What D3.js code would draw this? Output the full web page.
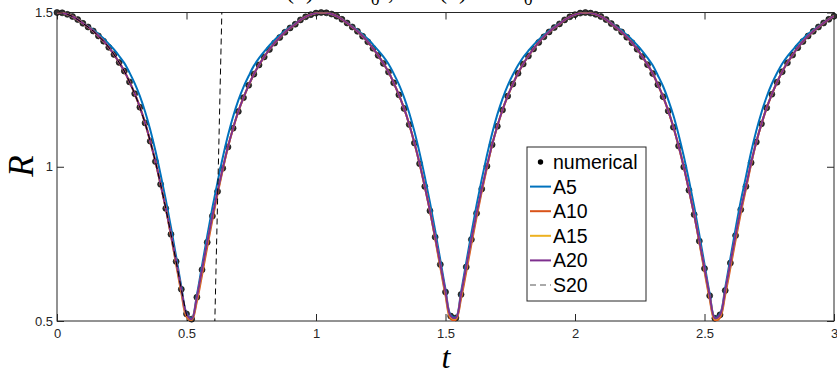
<!DOCTYPE html>
<html><head><meta charset="utf-8">
<script src="https://cdn.jsdelivr.net/npm/d3@7"></script>
<style>body{margin:0;background:#fff;} svg{display:block;}</style>
</head><body>
<script>
// ---- data (t grid: 0..3 step 0.02) ----
const tStart = 0, tEnd = 3, tStep = 0.02;
const numerical = [
1.500,1.499,1.494,1.487,1.477,1.465,1.453,1.440,1.424,1.407,1.387,1.364,1.338,1.310,1.275,1.237,1.193,1.142,1.083,1.017,0.943,0.865,0.781,0.693,0.603,0.523,
0.506,0.577,0.666,0.755,0.840,0.920,0.995,1.064,1.125,1.179,1.224,1.264,1.300,1.330,1.356,1.380,1.401,1.419,1.436,1.450,1.462,1.476,1.486,1.493,1.498,1.500,
1.499,1.495,1.488,1.478,1.466,1.453,1.439,1.423,1.405,1.384,1.361,1.335,1.307,1.272,1.233,1.189,1.137,1.077,1.010,0.936,0.857,0.772,0.683,0.594,0.516,
0.510,0.586,0.675,0.764,0.849,0.928,1.002,1.071,1.131,1.184,1.229,1.268,1.303,1.333,1.359,1.382,1.403,1.421,1.437,1.451,1.463,1.476,1.486,1.493,1.498,1.500,
1.498,1.494,1.487,1.477,1.464,1.451,1.437,1.420,1.402,1.381,1.357,1.331,1.302,1.266,1.227,1.181,1.128,1.067,0.999,0.924,0.845,0.759,0.670,0.582,0.509,
0.520,0.599,0.688,0.777,0.861,0.936,1.013,1.080,1.139,1.191,1.235,1.274,1.308,1.337,1.362,1.386,1.406,1.424,1.439,1.453,1.466,1.478,1.488];
const A5 = [
1.500,1.499,1.494,1.487,1.478,1.466,1.455,1.444,1.430,1.416,1.398,1.380,1.359,1.336,1.305,1.270,1.229,1.179,1.120,1.052,0.975,0.893,0.804,0.709,0.612,0.526,
0.508,0.584,0.680,0.776,0.867,0.951,1.030,1.101,1.163,1.215,1.258,1.294,1.327,1.352,1.373,1.393,1.411,1.426,1.441,1.453,1.464,1.477,1.486,1.493,1.498,1.500,
1.499,1.495,1.488,1.479,1.467,1.455,1.443,1.429,1.414,1.396,1.377,1.357,1.333,1.302,1.267,1.225,1.174,1.114,1.045,0.968,0.884,0.794,0.698,0.603,0.519,
0.512,0.594,0.690,0.785,0.876,0.960,1.037,1.108,1.169,1.220,1.263,1.298,1.329,1.355,1.376,1.395,1.412,1.427,1.441,1.454,1.465,1.477,1.486,1.493,1.498,1.500,
1.498,1.494,1.487,1.478,1.466,1.454,1.442,1.427,1.412,1.394,1.375,1.353,1.329,1.296,1.261,1.217,1.166,1.104,1.034,0.956,0.872,0.780,0.684,0.589,0.511,
0.523,0.608,0.704,0.799,0.889,0.968,1.048,1.117,1.176,1.227,1.269,1.304,1.334,1.358,1.378,1.398,1.415,1.430,1.443,1.455,1.467,1.479,1.488];
const A10 = [
1.500,1.499,1.494,1.487,1.477,1.465,1.453,1.440,1.424,1.407,1.387,1.364,1.338,1.310,1.275,1.237,1.193,1.142,1.083,1.017,0.943,0.865,0.776,0.684,0.592,0.514,
0.503,0.563,0.649,0.740,0.828,0.912,0.990,1.064,1.125,1.179,1.224,1.264,1.300,1.330,1.356,1.380,1.401,1.419,1.436,1.450,1.462,1.476,1.486,1.493,1.498,1.500,
1.499,1.495,1.488,1.478,1.466,1.453,1.439,1.423,1.405,1.384,1.361,1.335,1.307,1.272,1.233,1.189,1.137,1.077,1.010,0.936,0.857,0.767,0.674,0.583,0.507,
0.504,0.572,0.659,0.749,0.837,0.920,0.997,1.071,1.131,1.184,1.229,1.268,1.303,1.333,1.359,1.382,1.403,1.421,1.437,1.451,1.463,1.476,1.486,1.493,1.498,1.500,
1.498,1.494,1.487,1.477,1.464,1.451,1.437,1.420,1.402,1.381,1.357,1.331,1.302,1.266,1.227,1.181,1.128,1.067,0.999,0.924,0.845,0.754,0.661,0.571,0.502,
0.511,0.585,0.672,0.762,0.849,0.928,1.008,1.080,1.139,1.191,1.235,1.274,1.308,1.337,1.362,1.386,1.406,1.424,1.439,1.453,1.466,1.478,1.488];
const A15 = [
1.500,1.499,1.494,1.487,1.477,1.465,1.453,1.440,1.424,1.407,1.387,1.364,1.338,1.310,1.275,1.237,1.193,1.142,1.083,1.017,0.943,0.865,0.779,0.690,0.599,0.520,
0.505,0.573,0.662,0.752,0.838,0.918,0.994,1.064,1.125,1.179,1.224,1.264,1.300,1.330,1.356,1.380,1.401,1.419,1.436,1.450,1.462,1.476,1.486,1.493,1.498,1.500,
1.499,1.495,1.488,1.478,1.466,1.453,1.439,1.423,1.405,1.384,1.361,1.335,1.307,1.272,1.233,1.189,1.137,1.077,1.010,0.936,0.857,0.770,0.680,0.590,0.513,
0.508,0.582,0.671,0.761,0.847,0.926,1.001,1.071,1.131,1.184,1.229,1.268,1.303,1.333,1.359,1.382,1.403,1.421,1.437,1.451,1.463,1.476,1.486,1.493,1.498,1.500,
1.498,1.494,1.487,1.477,1.464,1.451,1.437,1.420,1.402,1.381,1.357,1.331,1.302,1.266,1.227,1.181,1.128,1.067,0.999,0.924,0.845,0.757,0.667,0.578,0.506,
0.517,0.595,0.684,0.774,0.859,0.934,1.012,1.080,1.139,1.191,1.235,1.274,1.308,1.337,1.362,1.386,1.406,1.424,1.439,1.453,1.466,1.478,1.488];
const A20 = [
1.500,1.499,1.494,1.487,1.477,1.465,1.453,1.440,1.424,1.407,1.387,1.364,1.338,1.310,1.275,1.237,1.193,1.142,1.083,1.017,0.943,0.865,0.781,0.693,0.603,0.523,
0.506,0.577,0.666,0.755,0.840,0.920,0.995,1.064,1.125,1.179,1.224,1.264,1.300,1.330,1.356,1.380,1.401,1.419,1.436,1.450,1.462,1.476,1.486,1.493,1.498,1.500,
1.499,1.495,1.488,1.478,1.466,1.453,1.439,1.423,1.405,1.384,1.361,1.335,1.307,1.272,1.233,1.189,1.137,1.077,1.010,0.936,0.857,0.772,0.683,0.594,0.516,
0.510,0.586,0.675,0.764,0.849,0.928,1.002,1.071,1.131,1.184,1.229,1.268,1.303,1.333,1.359,1.382,1.403,1.421,1.437,1.451,1.463,1.476,1.486,1.493,1.498,1.500,
1.498,1.494,1.487,1.477,1.464,1.451,1.437,1.420,1.402,1.381,1.357,1.331,1.302,1.266,1.227,1.181,1.128,1.067,0.999,0.924,0.845,0.759,0.670,0.582,0.509,
0.520,0.599,0.688,0.777,0.861,0.936,1.013,1.080,1.139,1.191,1.235,1.274,1.308,1.337,1.362,1.386,1.406,1.424,1.439,1.453,1.466,1.478,1.488];
// S20 series (same t grid): follows the solution, dips below the axis after the minimum, then diverges upward
const S20 = [
1.500,1.499,1.494,1.487,1.477,1.465,1.453,1.440,1.424,1.407,1.387,1.364,1.338,1.310,1.275,1.237,1.193,1.142,1.083,1.017,0.943,0.865,0.781,0.693,0.603,0.520,
0.440,0.300,0.120,-0.020,0.152,0.892,1.632];
const xTicks = [0, 0.5, 1, 1.5, 2, 2.5, 3];
const xTickLabels = ["0", "0.5", "1", "1.5", "2", "2.5", "3"];
const yTicks = [0.5, 1, 1.5];
const yTickLabels = ["0.5", "1", "1.5"];
const seriesNames = ["numerical", "A5", "A10", "A15", "A20", "S20"];
const seriesColors = {A5: "#0072BD", A10: "#D95319", A15: "#EDB120", A20: "#7E2F8E", S20: "#000000"};

const tGrid = d3.range(0, numerical.length).map(i => +(tStart + i * tStep).toFixed(2));

// ---- layout ----
const W = 837, H = 371;
const L = 57, R = 834, T = 12.5, B = 321;
const svg = d3.select("body").append("svg").attr("width", W).attr("height", H);
const x = d3.scaleLinear().domain([tStart, tEnd]).range([L, R]);
const y = d3.scaleLinear().domain([0.5, 1.5]).range([B, T]);

svg.append("defs").append("clipPath").attr("id", "clip")
  .append("rect").attr("x", L).attr("y", T).attr("width", R - L).attr("height", B - T);

// title (mostly cut off at the top edge, as in the reference)
const serif = "'Liberation Serif', 'Times New Roman', serif";
const title = svg.append("text").attr("y", -1).style("font-family", serif)
  .style("font-size", "24px").attr("fill", "#000");
const titleParts = [
  {s: "R", x: 271, it: true}, {s: "(0)", x: 286}, {s: "=", x: 330}, {s: "R", x: 355, it: true},
  {s: "0", x: 371, sub: true}, {s: ",", x: 388}, {s: "Ṙ", x: 421, it: true}, {s: "(0)", x: 439},
  {s: "=", x: 483}, {s: "Ṙ", x: 508, it: true}, {s: "0", x: 524, sub: true}];
titleParts.forEach(p => {
  title.append("tspan").attr("x", p.x).attr("y", p.sub ? 4.5 : -1)
    .style("font-style", p.it ? "italic" : "normal").style("font-size", p.sub ? "17px" : "24px").text(p.s);
});

// axes
const tickFont = "'Liberation Sans', Arial, Helvetica, sans-serif";
function styleAxis(g) {
  g.select(".domain").remove();
  g.selectAll("line").attr("stroke", "#262626").attr("stroke-width", 1);
  g.selectAll("text").attr("fill", "#262626").style("font-family", tickFont).style("font-size", "13px");
}
svg.append("g").attr("transform", `translate(0,${B})`)
  .call(d3.axisBottom(x).tickValues(xTicks).tickFormat((d, i) => xTickLabels[i]).tickSize(-7).tickPadding(8))
  .call(styleAxis);
svg.append("g").attr("transform", `translate(0,${T})`)
  .call(d3.axisTop(x).tickValues(xTicks).tickFormat("").tickSize(-7))
  .call(styleAxis);
svg.append("g").attr("transform", `translate(${L},0)`)
  .call(d3.axisLeft(y).tickValues(yTicks).tickFormat((d, i) => yTickLabels[i]).tickSize(-7).tickPadding(4))
  .call(styleAxis);
svg.append("g").attr("transform", `translate(${R},0)`)
  .call(d3.axisRight(y).tickValues(yTicks).tickFormat("").tickSize(-7))
  .call(styleAxis);

// box
svg.append("rect").attr("x", L).attr("y", T).attr("width", R - L).attr("height", B - T)
  .attr("fill", "none").attr("stroke", "#262626").attr("stroke-width", 1);

// axis labels
svg.append("text").attr("transform", `translate(33,166) rotate(-90)`).attr("text-anchor", "middle")
  .style("font-family", serif).style("font-style", "italic").style("font-size", "35px")
  .text("R");
svg.append("text").attr("x", 446).attr("y", 368).attr("text-anchor", "middle")
  .style("font-family", serif).style("font-style", "italic").style("font-size", "32px")
  .text("t");

// numerical dots
svg.append("g").selectAll("circle").data(numerical).join("circle")
  .attr("cx", (d, i) => x(tGrid[i])).attr("cy", d => y(d)).attr("r", 3)
  .attr("fill", "#333").attr("stroke", "#000").attr("stroke-width", 0.6);

// lines
const plot = svg.append("g").attr("clip-path", "url(#clip)");
const line = d3.line().x((d, i) => x(tGrid[i])).y(d => y(d)).curve(d3.curveCatmullRom.alpha(0.5));
[["A5", A5], ["A10", A10], ["A15", A15], ["A20", A20]].forEach(([name, arr]) => {
  plot.append("path").datum(arr).attr("d", line).attr("fill", "none")
    .attr("stroke", seriesColors[name]).attr("stroke-width", 2);
});
const sLine = d3.line().x((d, i) => x(tGrid[i])).y(d => y(d));
plot.append("path").datum(S20).attr("d", sLine).attr("fill", "none")
  .attr("stroke", seriesColors.S20).attr("stroke-width", 1).attr("stroke-dasharray", "6,4");

// legend
const lg = svg.append("g").attr("transform", "translate(527,147)");
lg.append("rect").attr("width", 119).attr("height", 154).attr("fill", "#fff")
  .attr("stroke", "#262626").attr("stroke-width", 1);
seriesNames.forEach((name, i) => {
  const cy = 15 + i * 24.6;
  if (name === "numerical") {
    lg.append("circle").attr("cx", 13.5).attr("cy", cy).attr("r", 2.7).attr("fill", "#000");
  } else {
    const ln = lg.append("line").attr("x1", 3).attr("x2", 24).attr("y1", cy).attr("y2", cy)
      .attr("stroke", seriesColors[name]).attr("stroke-width", name === "S20" ? 1 : 2);
    if (name === "S20") ln.attr("stroke-dasharray", "6,4").attr("stroke", "#555");
  }
  lg.append("text").attr("x", 26).attr("y", cy).attr("dy", "0.36em")
    .style("font-family", tickFont).style("font-size", "19.5px").attr("fill", "#000").text(name);
});
</script>
</body></html>
